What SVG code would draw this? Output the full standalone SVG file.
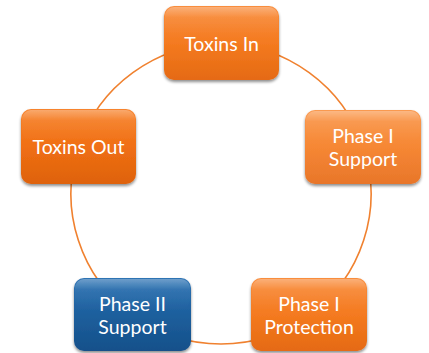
<svg xmlns="http://www.w3.org/2000/svg" width="429" height="353" viewBox="0 0 429 353">
  <defs>
    <linearGradient id="gOrange" x1="0" y1="0" x2="0" y2="1">
      <stop offset="0" stop-color="#F98E3E"/>
      <stop offset="0.5" stop-color="#F47A20"/>
      <stop offset="1" stop-color="#E56A12"/>
    </linearGradient>
    <linearGradient id="gOrangeLight" x1="0" y1="0" x2="0" y2="1">
      <stop offset="0" stop-color="#FA9A50"/>
      <stop offset="0.5" stop-color="#F68734"/>
      <stop offset="1" stop-color="#E8762A"/>
    </linearGradient>
    <linearGradient id="gOrangeDark" x1="0" y1="0" x2="0" y2="1">
      <stop offset="0" stop-color="#F7842E"/>
      <stop offset="0.5" stop-color="#F06F14"/>
      <stop offset="1" stop-color="#DE620C"/>
    </linearGradient>
    <linearGradient id="gBlue" x1="0" y1="0" x2="0" y2="1">
      <stop offset="0" stop-color="#2F74B4"/>
      <stop offset="0.5" stop-color="#1D5F9D"/>
      <stop offset="1" stop-color="#15508A"/>
    </linearGradient>
    <linearGradient id="gGloss" x1="0" y1="0" x2="0" y2="1">
      <stop offset="0" stop-color="#FFFFFF" stop-opacity="0.3"/>
      <stop offset="0.35" stop-color="#FFFFFF" stop-opacity="0.05"/>
      <stop offset="1" stop-color="#FFFFFF" stop-opacity="0"/>
    </linearGradient>
    <filter id="shadow" x="-10%" y="-10%" width="120%" height="130%">
      <feGaussianBlur in="SourceAlpha" stdDeviation="1.5"/>
      <feOffset dx="0" dy="1.5" result="b"/>
      <feComponentTransfer><feFuncA type="linear" slope="0.45"/></feComponentTransfer>
      <feMerge><feMergeNode/><feMergeNode in="SourceGraphic"/></feMerge>
    </filter>
  </defs>
  <style>
    .arc { fill: none; stroke: #F0812F; stroke-width: 1.6; }
    .box { filter: url(#shadow); }
    .gloss { fill: url(#gGloss); }
    .lbl { font-family: Lato, "Liberation Sans", sans-serif; font-size: 19.5px; fill: #FFFFFF; text-anchor: middle; }
  </style>

  <g id="connectors">
    <path class="arc" d="M221,44 A150,150 0 0 1 363.66,147.65"/>
    <path class="arc" d="M363.66,147.65 A150,150 0 0 1 309.17,315.35"/>
    <path class="arc" d="M309.17,315.35 A150,150 0 0 1 132.83,315.35"/>
    <path class="arc" d="M132.83,315.35 A150,150 0 0 1 78.34,147.65"/>
    <path class="arc" d="M78.34,147.65 A150,150 0 0 1 221,44"/>
  </g>

  <g id="node-toxins-in">
    <rect class="box" x="164" y="6" width="115" height="74" rx="10" fill="url(#gOrange)"/>
    <rect class="gloss" x="165" y="7" width="113" height="30" rx="9"/>
    <text class="lbl" x="221.5" y="50.5">Toxins In</text>
  </g>

  <g id="node-phase1-support">
    <rect class="box" x="305" y="110" width="116" height="74" rx="10" fill="url(#gOrangeLight)"/>
    <rect class="gloss" x="306" y="111" width="114" height="30" rx="9"/>
    <text class="lbl" x="363" y="143">Phase I</text>
    <text class="lbl" x="363" y="166">Support</text>
  </g>

  <g id="node-phase1-protection">
    <rect class="box" x="251" y="278" width="116" height="73" rx="10" fill="url(#gOrange)"/>
    <rect class="gloss" x="252" y="279" width="114" height="30" rx="9"/>
    <text class="lbl" x="309" y="311">Phase I</text>
    <text class="lbl" x="309" y="334">Protection</text>
  </g>

  <g id="node-phase2-support">
    <rect class="box" x="74" y="278" width="117" height="73" rx="10" fill="url(#gBlue)"/>
    <rect class="gloss" x="75" y="279" width="115" height="30" rx="9"/>
    <text class="lbl" x="132.5" y="311">Phase II</text>
    <text class="lbl" x="132.5" y="334">Support</text>
  </g>

  <g id="node-toxins-out">
    <rect class="box" x="21" y="109" width="115" height="75" rx="10" fill="url(#gOrangeDark)"/>
    <rect class="gloss" x="22" y="110" width="113" height="30" rx="9"/>
    <text class="lbl" x="78.5" y="153.5">Toxins Out</text>
  </g>
</svg>
